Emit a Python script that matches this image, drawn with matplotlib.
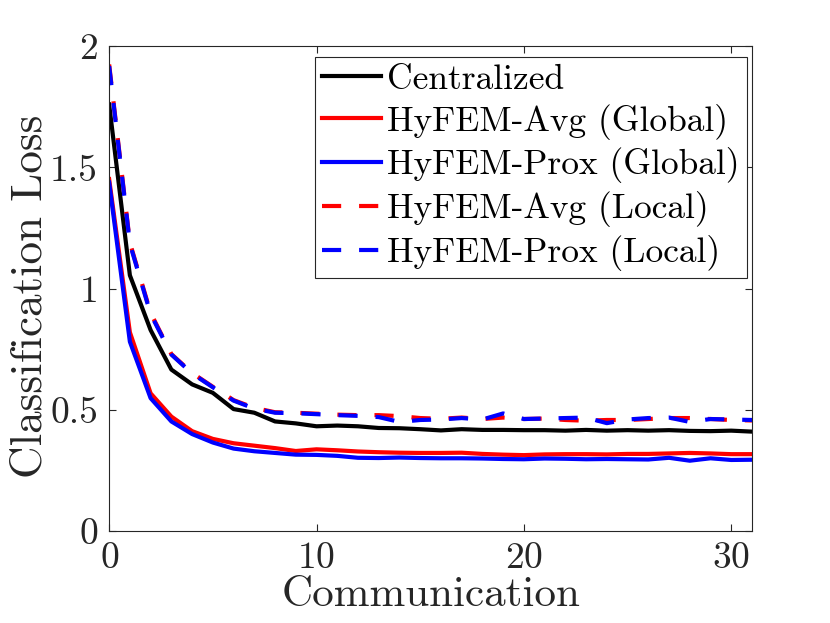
import matplotlib
matplotlib.use("Agg")
import matplotlib.pyplot as plt

# communication rounds
rounds = list(range(32))

# loss curves
centralized = [1.76, 1.055, 0.829, 0.666, 0.605, 0.570, 0.503, 0.488, 0.452, 0.444,
               0.432, 0.435, 0.432, 0.425, 0.424, 0.420, 0.415, 0.420, 0.417, 0.417,
               0.416, 0.416, 0.414, 0.417, 0.414, 0.416, 0.414, 0.416, 0.413, 0.412,
               0.414, 0.410]
avg_global = [1.452, 0.820, 0.568, 0.472, 0.412, 0.380, 0.362, 0.352, 0.342, 0.330,
              0.337, 0.333, 0.328, 0.325, 0.323, 0.322, 0.322, 0.323, 0.318, 0.315,
              0.313, 0.316, 0.317, 0.317, 0.316, 0.318, 0.318, 0.320, 0.322, 0.320,
              0.317, 0.317]
prox_global = [1.438, 0.781, 0.548, 0.452, 0.400, 0.365, 0.340, 0.329, 0.322, 0.315,
               0.314, 0.310, 0.302, 0.301, 0.303, 0.301, 0.300, 0.300, 0.299, 0.297,
               0.296, 0.299, 0.298, 0.296, 0.297, 0.296, 0.295, 0.302, 0.290, 0.300,
               0.293, 0.294]
avg_local = [1.925, 1.190, 0.900, 0.730, 0.652, 0.595, 0.540, 0.508, 0.490, 0.488,
             0.484, 0.480, 0.478, 0.478, 0.474, 0.466, 0.463, 0.468, 0.462, 0.468,
             0.462, 0.464, 0.458, 0.455, 0.458, 0.458, 0.462, 0.466, 0.466, 0.462,
             0.458, 0.456]
prox_local = [1.918, 1.185, 0.895, 0.728, 0.650, 0.593, 0.538, 0.505, 0.488, 0.486,
              0.482, 0.478, 0.475, 0.470, 0.450, 0.458, 0.460, 0.466, 0.460, 0.485,
              0.462, 0.464, 0.466, 0.468, 0.445, 0.460, 0.466, 0.468, 0.450, 0.462,
              0.460, 0.458]

xticks = [0, 10, 20, 30]
yticks = [0, 0.5, 1, 1.5, 2]
ytick_labels = ["0", "0.5", "1", "1.5", "2"]

plt.rcParams["font.family"] = ["cmr10", "DejaVu Serif"]
plt.rcParams["axes.formatter.use_mathtext"] = True

fig = plt.figure(figsize=(8.3, 6.23), dpi=100)
ax = fig.add_axes([0.1315, 0.1477, 0.7745, 0.778])

lw = 3
dash = (0, (4.6, 4.3))
ax.plot(rounds, centralized, color="black", lw=lw, label="Centralized")
ax.plot(rounds, avg_global, color="red", lw=lw, label="HyFEM-Avg (Global)")
ax.plot(rounds, prox_global, color="blue", lw=lw, label="HyFEM-Prox (Global)")
ax.plot(rounds, avg_local, color="red", lw=lw, ls=dash, label="HyFEM-Avg (Local)")
ax.plot(rounds, prox_local, color="blue", lw=lw, ls=dash, label="HyFEM-Prox (Local)")

ax.set_xlim(0, 31)
ax.set_ylim(0, 2)
ax.set_xticks(xticks)
ax.set_yticks(yticks, labels=ytick_labels)
ax.tick_params(direction="in", top=True, right=True, length=5, width=0.8,
               labelsize=27, colors="0.15", pad=8)
for s in ax.spines.values():
    s.set_color("0.15")
    s.set_linewidth(0.8)

ax.set_xlabel("Communication", fontsize=31, color="0.15", labelpad=1)
ax.set_ylabel("Classification Loss", fontsize=32.5, color="0.15", labelpad=0)
ax.yaxis.label.set_y(0.485)

leg = ax.legend(loc="upper right", bbox_to_anchor=(0.992, 0.978), borderaxespad=0,
                fontsize=25.5, handlelength=1.67, handletextpad=0.17, labelspacing=0.22,
                borderpad=0.2, fancybox=False, framealpha=1, edgecolor="0.15")
leg.get_frame().set_linewidth(0.8)

fig.savefig("out.png", dpi=100)
